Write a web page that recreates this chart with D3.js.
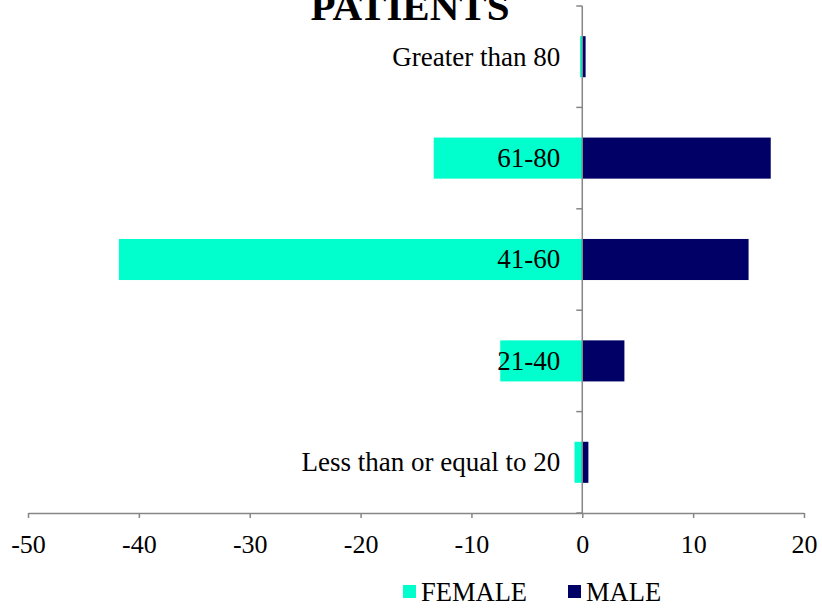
<!DOCTYPE html>
<html>
<head>
<meta charset="utf-8">
<script src="https://cdn.jsdelivr.net/npm/d3@7"></script>
<style>
  body { margin: 0; background: #fff; }
  svg text { font-family: "Liberation Serif", "Times New Roman", serif; fill: #000; }
</style>
</head>
<body>
<svg id="chart"></svg>
<script>
// age groups, top to bottom as drawn
const categories = ["Greater than 80", "61-80", "41-60", "21-40", "Less than or equal to 20"];
const female = [-0.2, -13.4, -41.8, -7.4, -0.7];
const male = [0.3, 17.0, 15.0, 3.8, 0.55];
const seriesNames = ["FEMALE", "MALE"];
const xTicks = [-50, -40, -30, -20, -10, 0, 10, 20];
const titleText = "PATIENTS";

const width = 822;
const height = 608;
const plotLeft = 28, plotRight = 804, plotTop = 6, plotBottom = 513;
const colors = ["#00FFCC", "#000066"];
const axisColor = "#868686";

let svg = d3.select("#chart")
    .attr("width", width)
    .attr("height", height);

let x = d3.scaleLinear()
    .domain([-50, 20])
    .range([plotLeft, plotRight]);

let y = d3.scaleBand()
    .domain(categories)
    .range([plotTop, plotBottom])
    .paddingInner(0.595)
    .paddingOuter(0.2975);

// title (first line is cut off in the original)
svg.append("text")
    .attr("x", 410)
    .attr("y", 20)
    .attr("text-anchor", "middle")
    .style("font-size", "41px")
    .style("font-weight", "bold")
    .text(titleText);

// bars
[female, male].forEach((vals, i) => {
    svg.append("g")
        .selectAll("rect")
        .data(categories.map((c, k) => ({ c: c, v: vals[k] })))
        .enter()
        .append("rect")
        .attr("x", d => x(Math.min(0, d.v)))
        .attr("y", d => y(d.c))
        .attr("width", d => Math.abs(x(d.v) - x(0)))
        .attr("height", y.bandwidth())
        .attr("fill", colors[i]);
});

// x axis
let axisX = d3.axisBottom(x)
    .tickValues(xTicks)
    .tickSize(5)
    .tickSizeOuter(0)
    .tickFormat(d => String(d));

let gx = svg.append("g")
    .attr("transform", `translate(0, ${plotBottom})`)
    .call(axisX);
gx.select(".domain").attr("stroke", axisColor).attr("stroke-width", 1.5);
gx.selectAll(".tick line").attr("stroke", axisColor).attr("stroke-width", 1.5);
gx.selectAll(".tick text")
    .attr("y", 39.5)
    .attr("dy", 0)
    .style("font-size", "26px")
    .style("font-family", "Liberation Serif, serif")
    .attr("fill", "#000");

// vertical axis at zero with ticks between categories
let yAxisG = svg.append("g");
yAxisG.append("line")
    .attr("x1", x(0)).attr("x2", x(0))
    .attr("y1", plotTop).attr("y2", plotBottom)
    .attr("stroke", axisColor)
    .attr("stroke-width", 1.5);

let bounds = categories.map(c => y(c) - y.step() * y.paddingInner() / 2);
bounds.push(plotBottom);
yAxisG.selectAll(".ytick")
    .data(bounds)
    .enter()
    .append("line")
    .attr("x1", x(0) - 6).attr("x2", x(0))
    .attr("y1", d => d).attr("y2", d => d)
    .attr("stroke", axisColor)
    .attr("stroke-width", 1.5);

// category labels
svg.append("g")
    .selectAll("text")
    .data(categories)
    .enter()
    .append("text")
    .attr("x", x(0) - 22)
    .attr("y", d => y(d) + y.bandwidth() / 2)
    .attr("dy", "0.33em")
    .attr("text-anchor", "end")
    .style("font-size", "27px")
    .text(d => d);

// legend
let legend = svg.append("g")
    .attr("transform", "translate(403, 585)");
let item = legend.selectAll("g")
    .data(seriesNames)
    .enter()
    .append("g")
    .attr("transform", (d, i) => `translate(${i * 165}, 0)`);
item.append("rect")
    .attr("width", 13)
    .attr("height", 13)
    .attr("fill", (d, i) => colors[i]);
item.append("text")
    .attr("x", 18)
    .attr("y", 15.5)
    .style("font-size", "26.5px")
    .text(d => d);
</script>
</body>
</html>
